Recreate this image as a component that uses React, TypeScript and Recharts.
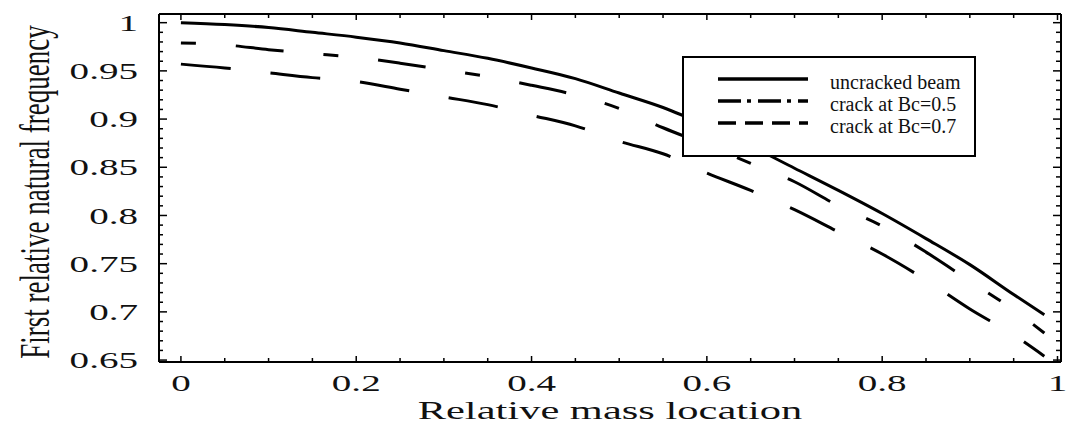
import { LineChart, Line, XAxis, YAxis } from "recharts";

// relative mass location (x) and first relative natural frequency for each case
const massLocation = [0, 0.05, 0.1, 0.15, 0.2, 0.25, 0.3, 0.35, 0.4, 0.45, 0.5, 0.55, 0.6, 0.65, 0.7, 0.75, 0.8, 0.85, 0.9, 0.95, 0.985];
const uncracked = [1.0, 0.998, 0.995, 0.99, 0.985, 0.979, 0.971, 0.963, 0.953, 0.942, 0.927, 0.912, 0.893, 0.872, 0.849, 0.826, 0.802, 0.776, 0.749, 0.718, 0.697];
const crackBc05 = [0.979, 0.977, 0.972, 0.968, 0.964, 0.958, 0.951, 0.944, 0.935, 0.925, 0.911, 0.891, 0.873, 0.854, 0.835, 0.81, 0.789, 0.762, 0.732, 0.702, 0.678];
const crackBc07 = [0.957, 0.953, 0.948, 0.943, 0.939, 0.931, 0.923, 0.915, 0.904, 0.893, 0.877, 0.864, 0.844, 0.826, 0.806, 0.783, 0.76, 0.733, 0.703, 0.676, 0.654];

const seriesNames = ["uncracked beam", "crack at Bc=0.5", "crack at Bc=0.7"];

const xMajorTicks = [0, 0.2, 0.4, 0.6, 0.8, 1];
const yMajorTicks = [0.65, 0.7, 0.75, 0.8, 0.85, 0.9, 0.95, 1];
const xTicks = Array.from({ length: 21 }, (_, i) => (i * 5) / 100);
const yTicks = Array.from({ length: 36 }, (_, i) => (65 + i) / 100);

const data = massLocation.map((x, i) => ({
  x,
  uncracked: uncracked[i],
  bc05: crackBc05[i],
  bc07: crackBc07[i]
}));

const SERIF = '"Liberation Serif", "Times New Roman", serif';
const DASH_DOT = "15 40 48 40";
const DASHED = "50 40";
const X_DOMAIN = [-0.025, 1.004];
const Y_DOMAIN = [0.648, 1.009];

const isMajor = (list: number[], v: number) => list.some((t) => Math.abs(t - v) < 1e-6);
const fmt = (v: number) => String(Number(v.toFixed(2)));

function BottomTick({ x, y, payload }: any) {
  const major = isMajor(xMajorTicks, payload.value);
  return (
    <g>
      <line x1={x} y1={y} x2={x} y2={y - (major ? 6 : 4)} stroke="#000" strokeWidth={1.5} />
      {major && (
        <text
          transform={`translate(${x},${y + 29}) scale(1.7,1)`}
          textAnchor="middle"
          fontFamily={SERIF}
          fontSize={23}
          fill="#111"
        >
          {fmt(payload.value)}
        </text>
      )}
    </g>
  );
}

function TopTick({ x, y, payload }: any) {
  const major = isMajor(xMajorTicks, payload.value);
  return <line x1={x} y1={y} x2={x} y2={y + (major ? 6 : 4)} stroke="#000" strokeWidth={1.5} />;
}

function LeftTick({ x, y, payload }: any) {
  const major = isMajor(yMajorTicks, payload.value);
  return (
    <g>
      <line x1={x} y1={y} x2={x + (major ? 8 : 4)} y2={y} stroke="#000" strokeWidth={1.5} />
      {major && (
        <text
          transform={`translate(${x - 21},${y}) scale(1.7,1)`}
          textAnchor="end"
          dy="0.35em"
          fontFamily={SERIF}
          fontSize={23}
          fill="#111"
        >
          {fmt(payload.value)}
        </text>
      )}
    </g>
  );
}

function RightTick({ x, y, payload }: any) {
  const major = isMajor(yMajorTicks, payload.value);
  return <line x1={x} y1={y} x2={x - (major ? 8 : 5)} y2={y} stroke="#000" strokeWidth={1.5} />;
}

function XTitle({ viewBox }: any) {
  const cx = viewBox.x + viewBox.width / 2;
  return (
    <text
      transform={`translate(${cx},${viewBox.y + 57}) scale(1.7,1)`}
      textAnchor="middle"
      fontFamily={SERIF}
      fontSize={25}
      fill="#111"
    >
      Relative mass location
    </text>
  );
}

function YTitle({ viewBox }: any) {
  const cy = viewBox.y + viewBox.height / 2 + 4;
  return (
    <text
      transform={`translate(36,${cy}) rotate(-90) scale(1,1.6)`}
      textAnchor="middle"
      dy="0.3em"
      fontFamily={SERIF}
      fontSize={27}
      fill="#111"
    >
      First relative natural frequency
    </text>
  );
}

function LegendBox() {
  const rows = [
    { name: seriesNames[0], dash: undefined },
    { name: seriesNames[1], dash: "23 6 4 7" },
    { name: seriesNames[2], dash: "18 9" }
  ];
  return (
    <div
      style={{
        position: "absolute",
        left: 682,
        top: 56,
        width: 294,
        height: 101,
        border: "2px solid #000",
        background: "#fff",
        boxSizing: "border-box"
      }}
    >
      <svg width={290} height={97} style={{ display: "block" }}>
        {rows.map((r, i) => (
          <g key={r.name}>
            <line
              x1={34}
              x2={124}
              y1={21 + i * 22}
              y2={21 + i * 22}
              stroke="#000"
              strokeWidth={3.5}
              strokeDasharray={r.dash}
            />
            <text x={146} y={31 + i * 22} fontFamily={SERIF} fontSize={20} fill="#111">
              {r.name}
            </text>
          </g>
        ))}
      </svg>
    </div>
  );
}

export default function App() {
  return (
    <div style={{ position: "absolute", left: 0, top: 0, width: 1070, height: 444, background: "#fff" }}>
      <LineChart width={1070} height={444} data={data} margin={{ top: 13, right: 8, left: 0, bottom: 0 }}>
        <XAxis
          dataKey="x"
          type="number"
          domain={X_DOMAIN}
          allowDataOverflow
          ticks={xTicks}
          interval={0}
          tick={<BottomTick />}
          tickLine={false}
          tickSize={0}
          tickMargin={0}
          height={82}
          axisLine={{ stroke: "#000", strokeWidth: 2 }}
          label={<XTitle />}
        />
        <XAxis
          xAxisId="top"
          dataKey="x"
          orientation="top"
          type="number"
          domain={X_DOMAIN}
          allowDataOverflow
          ticks={xTicks}
          interval={0}
          tick={<TopTick />}
          tickLine={false}
          tickSize={0}
          tickMargin={0}
          height={1}
          axisLine={{ stroke: "#000", strokeWidth: 2 }}
        />
        <YAxis
          type="number"
          domain={Y_DOMAIN}
          allowDataOverflow
          ticks={yTicks}
          interval={0}
          tick={<LeftTick />}
          tickLine={false}
          tickSize={0}
          tickMargin={0}
          width={159}
          axisLine={{ stroke: "#000", strokeWidth: 2 }}
          label={<YTitle />}
        />
        <YAxis
          yAxisId="right"
          orientation="right"
          type="number"
          domain={Y_DOMAIN}
          allowDataOverflow
          ticks={yTicks}
          interval={0}
          tick={<RightTick />}
          tickLine={false}
          tickSize={0}
          tickMargin={0}
          width={1}
          axisLine={{ stroke: "#000", strokeWidth: 2 }}
        />
        {/* invisible copy so the top and right frame axes get drawn */}
        <Line
          xAxisId="top"
          yAxisId="right"
          dataKey="uncracked"
          stroke="none"
          dot={false}
          activeDot={false}
          isAnimationActive={false}
        />
        <Line
          type="monotone"
          dataKey="uncracked"
          name={seriesNames[0]}
          stroke="#000"
          strokeWidth={3}
          dot={false}
          isAnimationActive={false}
        />
        <Line
          type="monotone"
          dataKey="bc05"
          name={seriesNames[1]}
          stroke="#000"
          strokeWidth={3}
          strokeDasharray={DASH_DOT}
          dot={false}
          isAnimationActive={false}
        />
        <Line
          type="monotone"
          dataKey="bc07"
          name={seriesNames[2]}
          stroke="#000"
          strokeWidth={3}
          strokeDasharray={DASHED}
          dot={false}
          isAnimationActive={false}
        />
      </LineChart>
      <LegendBox />
    </div>
  );
}
